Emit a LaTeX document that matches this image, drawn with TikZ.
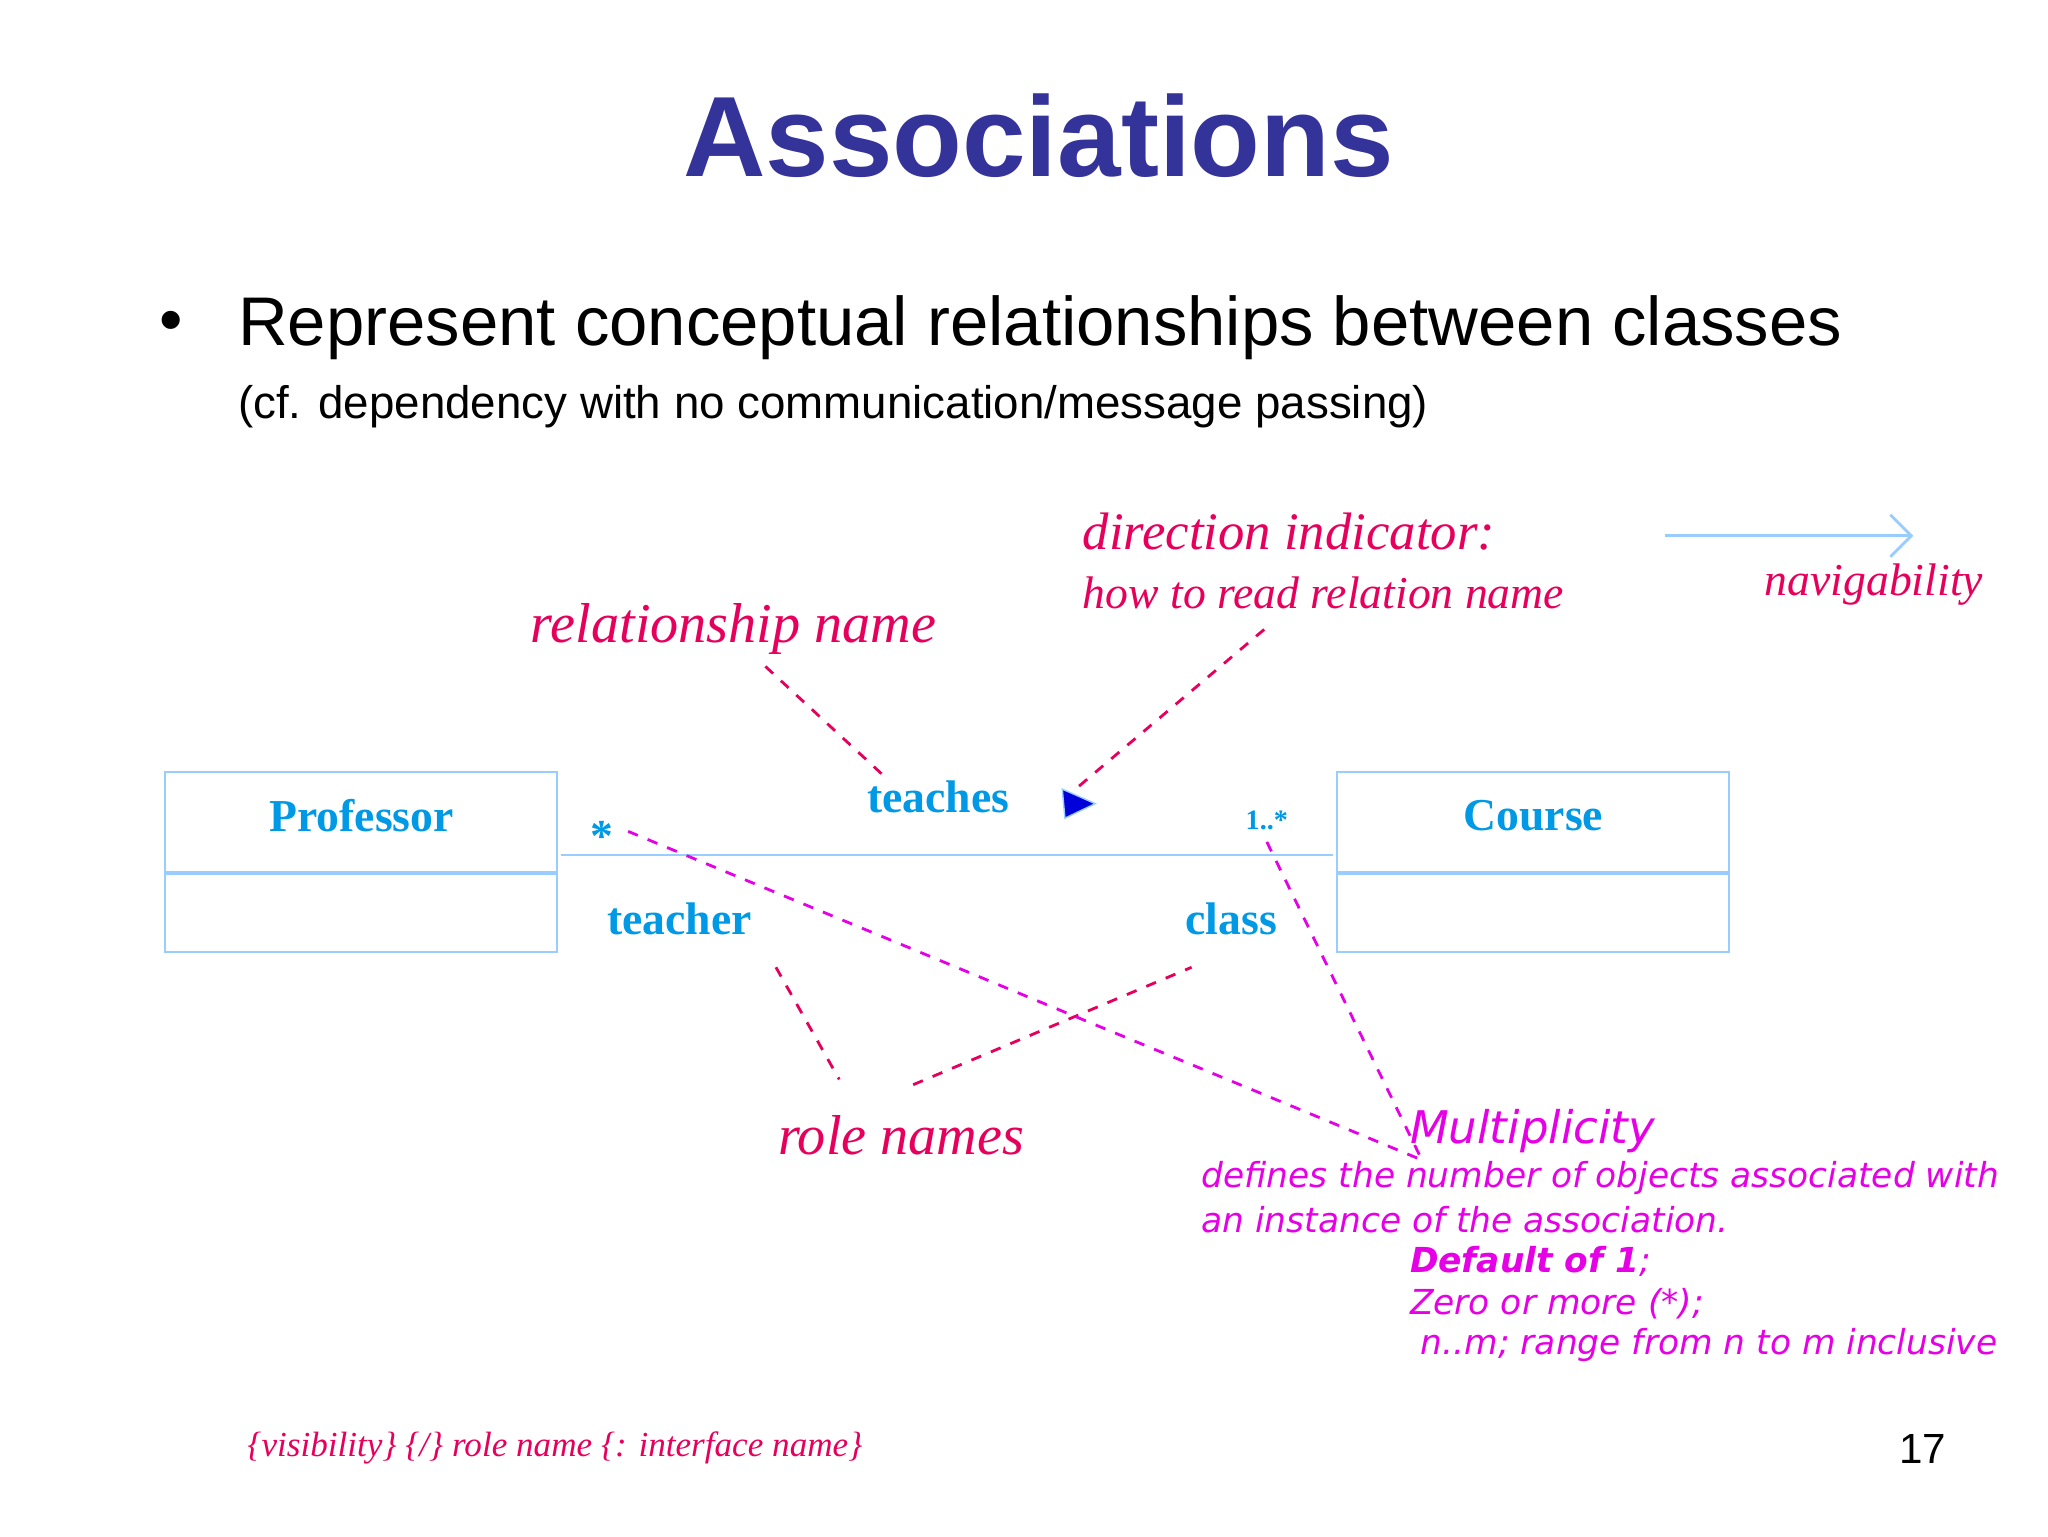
\documentclass[tikz,border=0pt]{standalone}
\usepackage{fontspec}
\setmainfont{Liberation Serif}
\setsansfont{Liberation Sans}
\newfontfamily\verd{DejaVu Sans}
\usetikzlibrary{arrows.meta, calc, positioning}
\definecolor{titleblue}{RGB}{51,51,153}
\definecolor{boxline}{RGB}{153,204,255}
\definecolor{umlblue}{RGB}{0,153,230}
\definecolor{notered}{RGB}{230,0,92}
\definecolor{notemag}{RGB}{230,0,230}

\begin{document}
\begin{tikzpicture}[x=0.0132cm, y=-0.0132cm, >=Latex,
  cls/.style={draw=boxline, semithick, minimum width=297*0.0132cm, minimum height=76*0.0132cm},
  low/.style={draw=boxline, semithick, minimum width=297*0.0132cm, minimum height=59*0.0132cm},
  uml/.style={text=umlblue, font=\bfseries\fontsize{13}{15}\selectfont},
  note/.style={text=notered, font=\itshape\fontsize{15}{18}\selectfont},
  mult/.style={text=notemag, font=\verd\itshape\fontsize{9.8}{11}\selectfont, anchor=west, inner sep=0},
  redline/.style={notered, dashed, thick},
  magline/.style={notemag, dashed, thick}]
  \useasboundingbox (0,0) rectangle (1552,1164);
  \fill[white] (0,0) rectangle (1552,1164);

  \node[text=titleblue, font=\sffamily\bfseries\fontsize{32.5}{36}\selectfont] (title) at (787,103) {Associations};
  \node[font=\sffamily\fontsize{19}{22}\selectfont] (bullet) at (130,248) {\textbullet};
  \node[anchor=west, inner sep=0, font=\sffamily\fontsize{19.6}{22}\selectfont] (point) at (180,248) {Represent conceptual relationships between classes};
  \node[anchor=west, inner sep=0, font=\sffamily\fontsize{13}{16}\selectfont] (sub) at (180,308) {(cf. dependency with no communication/message passing)};

  % classes
  \node[cls] (prof) at (273.5,623) {};
  \node[low, below=0pt of prof] (profb) {};
  \node[uml] (proft) at (274,618) {Professor};
  \node[cls] (course) at (1161.5,623) {};
  \node[low, below=0pt of course] (courseb) {};
  \node[uml] (courset) at (1162,618) {Course};
  \coordinate (a1) at (425,648);
  \coordinate (a2) at (1010,648);
  \draw[boxline, semithick] (a1) -- (a2);

  \node[uml] (teaches) at (711,604) {teaches};
  \fill[blue!85!black, draw=boxline] (805,598) -- (830,609) -- (807,620) -- cycle;
  \node[uml] (star) at (456,634) {*};
  \node[uml, font=\bfseries\fontsize{8}{9}\selectfont] (many) at (960,622) {1..*};
  \node[uml] (teacher) at (515,696) {teacher};
  \node[uml] (class) at (933,696) {class};

  % notes
  \node[note, anchor=west, inner sep=0] (dir) at (820,403) {direction indicator:};
  \node[note, anchor=west, inner sep=0, font=\itshape\fontsize{13}{15}\selectfont] (how) at (820,449) {how to read relation name};
  \node[note, font=\itshape\fontsize{16}{18}\selectfont] (rel) at (556,477) {relationship name};
  \node[note, font=\itshape\fontsize{13}{15}\selectfont] (nav) at (1420,443) {navigability};
  \coordinate (n1) at (1262,406);
  \coordinate (n2) at (1450,406);
  \draw[boxline, thick, -{Straight Barb[length=6pt]}] (n1) -- (n2);
  \node[note, font=\itshape\fontsize{16}{18}\selectfont] (roles) at (683,860) {role names};
  \node[note, anchor=west, inner sep=0, font=\itshape\fontsize{10}{12}\selectfont] (vis) at (187,1097) {\{visibility\} \{/\} role name \{: interface name\}};
  \node[font=\sffamily\fontsize{12}{14}\selectfont] (page) at (1457,1098) {17};

  \node[mult, font=\verd\itshape\fontsize{12.8}{14}\selectfont] (multi) at (1068,857) {Multiplicity};
  \node[mult] (m1) at (910,893) {defines the number of objects associated with};
  \node[mult] (m2) at (910,924) {an instance of the association.};
  \node[mult] (m3) at (1068,956) {\textbf{Default of 1};};
  \node[mult] (m4) at (1068,988) {Zero or more (*);};
  \node[mult] (m5) at (1068,1019) {\ n..m; range from n to m inclusive};

  % leader lines
  \draw[redline] (580,505) -- (672,590);
  \draw[redline] (958,477) -- (815,598);
  \draw[redline] (588,733) -- (636,818);
  \draw[redline] (692,822) -- (903,733);
  \draw[magline] (476,630) -- (1075,878);
  \draw[magline] (960,638) -- (1078,880);
\end{tikzpicture}
\end{document}
